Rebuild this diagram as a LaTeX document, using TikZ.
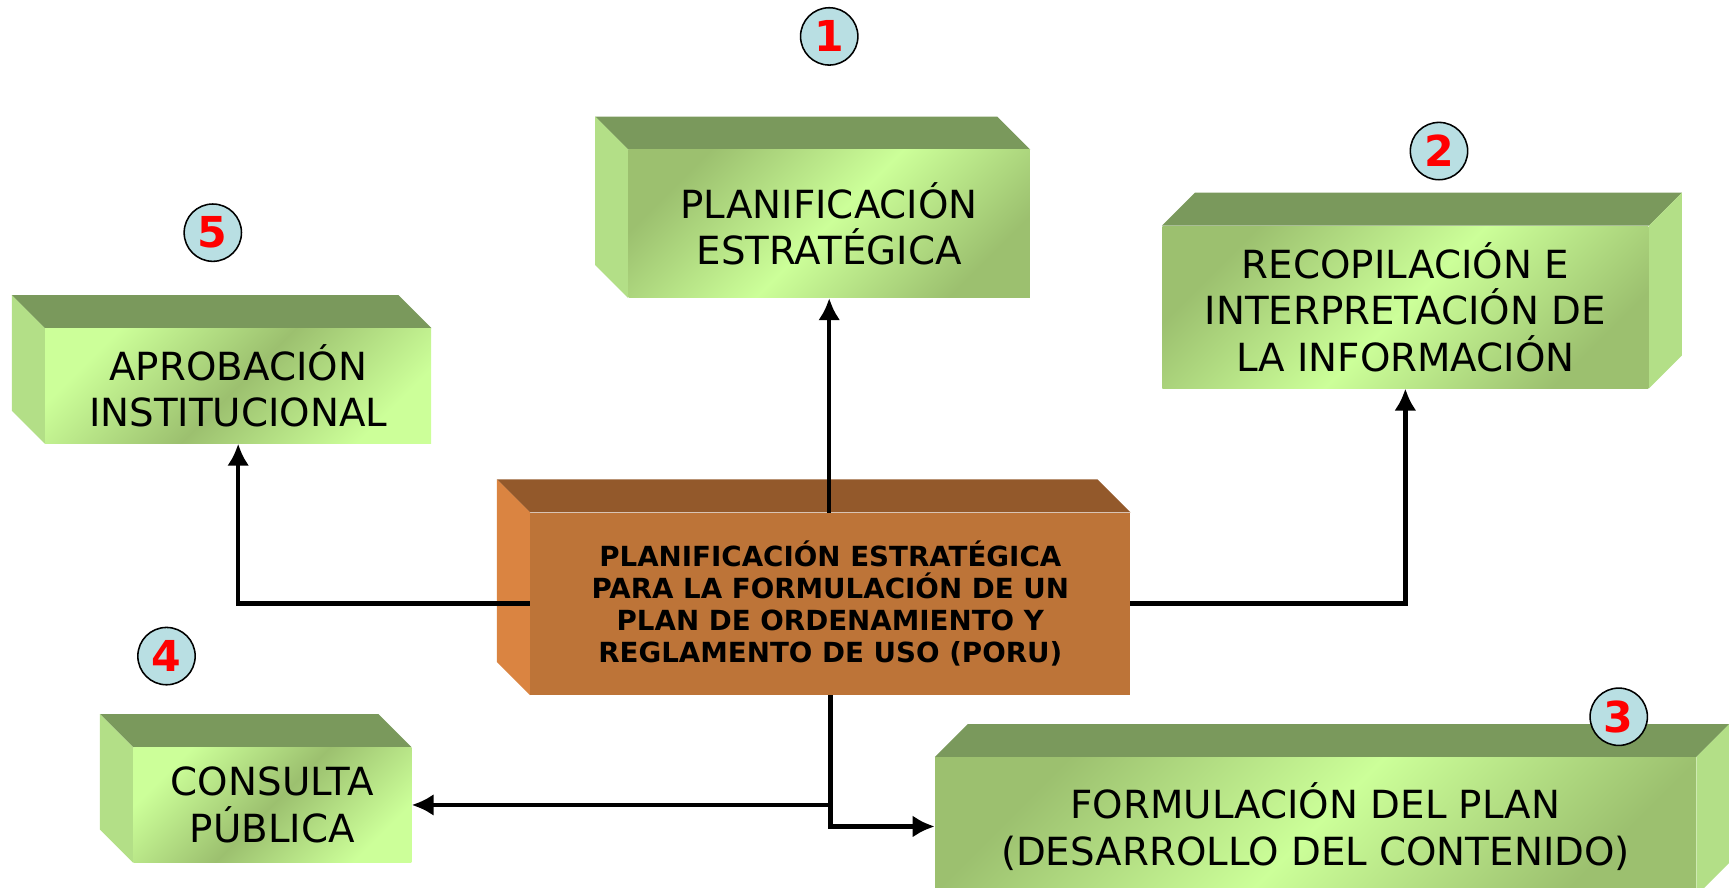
\documentclass[tikz,border=0pt]{standalone}
\usepackage{fontspec}
\setmainfont{DejaVu Sans}
\usepackage{tikz}
\usetikzlibrary{arrows.meta,positioning,calc,backgrounds,shapes}

\definecolor{boxtop}{HTML}{7A995C}
\definecolor{boxside}{HTML}{B3DF87}
\definecolor{boxdark}{HTML}{9CC06F}
\definecolor{boxlight}{HTML}{CCFF99}
\definecolor{porufront}{HTML}{BD7438}
\definecolor{porutop}{HTML}{93592B}
\definecolor{poruside}{HTML}{DA8441}
\definecolor{numfill}{HTML}{B9DFE3}

\begin{document}
\begin{tikzpicture}[x=0.02cm,y=-0.02cm,
    face/.style={inner sep=0pt,align=center,font=\fontsize{20}{24}\selectfont},
    faceA/.style={face,top color=boxdark,bottom color=boxdark,middle color=boxlight,shading angle=45},
    faceB/.style={face,top color=boxlight,bottom color=boxlight,middle color=boxdark,shading angle=45},
    link/.style={line width=2.3pt,-{Latex[length=4mm,width=4mm]}},
    num/.style={circle,draw,thick,fill=numfill,minimum size=1.04cm,inner sep=0pt,text=red,font=\fontsize{22}{22}\selectfont\bfseries}]
          \useasboundingbox (0,0) rectangle (1568,805);

          % front faces
          \node[faceA,minimum width=7.28cm,minimum height=2.68cm] (plan) at (752,203) {PLANIFICACIÓN\\ESTRATÉGICA};
          \node[faceA,minimum width=8.82cm,minimum height=2.94cm] (recop) at (1274.5,278.5) {RECOPILACIÓN E\\INTERPRETACIÓN DE\\LA INFORMACIÓN};
          \node[faceB,minimum width=7.0cm,minimum height=2.08cm] (aprob) at (216,350) {APROBACIÓN\\INSTITUCIONAL};
          \node[faceB,minimum width=5.04cm,minimum height=2.08cm] (consulta) at (247,730) {CONSULTA\\PÚBLICA};
          \node[faceA,minimum width=13.8cm,minimum height=2.5cm] (formul) at (1193,749.5) {FORMULACIÓN DEL PLAN\\(DESARROLLO DEL CONTENIDO)};
          \node[fill=porufront,inner sep=0pt,align=center,minimum width=10.88cm,minimum height=3.3cm,
                font=\fontsize{14.3}{16.6}\selectfont\bfseries] (poru) at (753,547.5)
                {PLANIFICACIÓN ESTRATÉGICA\\PARA LA FORMULACIÓN DE UN\\PLAN DE ORDENAMIENTO Y\\REGLAMENTO DE USO (PORU)};

          \begin{pgfonlayer}{background}
          % top and side faces
          \fill[boxtop] (plan.north west) -- ++(-0.6cm,0.6cm) -- ($(plan.north east)+(-0.6cm,0.6cm)$) -- (plan.north east) -- cycle;
          \fill[boxside] (plan.north west) -- ++(-0.6cm,0.6cm) -- ($(plan.south west)+(-0.6cm,0.6cm)$) -- (plan.south west) -- cycle;
          \fill[boxtop] (aprob.north west) -- ++(-0.6cm,0.6cm) -- ($(aprob.north east)+(-0.6cm,0.6cm)$) -- (aprob.north east) -- cycle;
          \fill[boxside] (aprob.north west) -- ++(-0.6cm,0.6cm) -- ($(aprob.south west)+(-0.6cm,0.6cm)$) -- (aprob.south west) -- cycle;
          \fill[boxtop] (consulta.north west) -- ++(-0.6cm,0.6cm) -- ($(consulta.north east)+(-0.6cm,0.6cm)$) -- (consulta.north east) -- cycle;
          \fill[boxside] (consulta.north west) -- ++(-0.6cm,0.6cm) -- ($(consulta.south west)+(-0.6cm,0.6cm)$) -- (consulta.south west) -- cycle;
          \fill[boxtop] (recop.north west) -- ++(0.6cm,0.6cm) -- ($(recop.north east)+(0.6cm,0.6cm)$) -- (recop.north east) -- cycle;
          \fill[boxside] (recop.north east) -- ++(0.6cm,0.6cm) -- ($(recop.south east)+(0.6cm,0.6cm)$) -- (recop.south east) -- cycle;
          \fill[boxtop] (formul.north west) -- ++(0.6cm,0.6cm) -- ($(formul.north east)+(0.6cm,0.6cm)$) -- (formul.north east) -- cycle;
          \fill[boxside] (formul.north east) -- ++(0.6cm,0.6cm) -- ($(formul.south east)+(0.6cm,0.6cm)$) -- (formul.south east) -- cycle;
          \fill[porutop] (poru.north west) -- ++(-0.6cm,0.6cm) -- ($(poru.north east)+(-0.6cm,0.6cm)$) -- (poru.north east) -- cycle;
          \fill[poruside] (poru.north west) -- ++(-0.6cm,0.6cm) -- ($(poru.south west)+(-0.6cm,0.6cm)$) -- (poru.south west) -- cycle;

          % connectors
          \draw[link] (plan.south |- poru.center) -- (plan.south);
          \draw[link] (poru.center) -| (recop.south);
          \draw[link] (poru.center) -| (aprob.south);
          \draw[link] (poru.center) |- (consulta.east);
          \draw[link] (poru.center) |- (formul.west);
          \end{pgfonlayer}

          % step numbers
          \node[num] (n1) at (752,33) {1};
          \node[num] (n2) at (1305,137) {2};
          \node[num] (n3) at (1468,650) {3};
          \node[num] (n4) at (151,595) {4};
          \node[num] (n5) at (193,211) {5};
        \end{tikzpicture}
\end{document}
